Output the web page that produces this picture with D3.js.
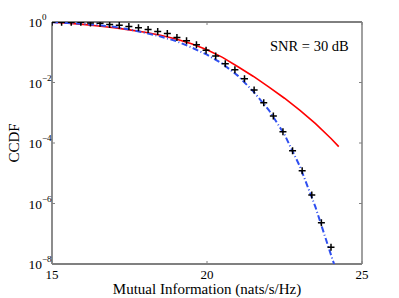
<!DOCTYPE html>
<html><head><meta charset="utf-8">
<script src="https://cdn.jsdelivr.net/npm/d3@7"></script>
<style>
html,body{margin:0;padding:0;background:#fff;}
text{font-family:"Liberation Serif","Times New Roman",serif;fill:#000;}
</style></head>
<body><svg id="c" width="399" height="298"></svg>
<script>
// Markers (simulation) - x in nats/s/Hz, y as log10(CCDF)
const crossX = [15.00,15.31,15.62,15.93,16.24,16.55,16.86,17.17,17.48,17.79,18.10,18.41,18.72,19.03,19.34,19.66,19.97,20.28,20.59,20.90,21.21,21.52,21.83,22.14,22.45,22.76,23.07,23.38,23.69,24.00];
const crossLog = [-0.01,-0.01,-0.01,-0.01,-0.03,-0.04,-0.08,-0.11,-0.15,-0.19,-0.25,-0.31,-0.38,-0.51,-0.62,-0.75,-0.93,-1.12,-1.38,-1.58,-1.88,-2.25,-2.67,-3.11,-3.63,-4.26,-4.92,-5.72,-6.64,-7.45];
// Red solid curve
const redX = [15.0,15.5,16.0,16.5,17.0,17.5,18.0,18.5,19.0,19.5,20.0,20.5,21.0,21.5,22.0,22.5,23.0,23.5,24.0,24.25];
const redLog = [-0.01,-0.04,-0.08,-0.13,-0.19,-0.26,-0.34,-0.44,-0.56,-0.72,-0.92,-1.17,-1.48,-1.80,-2.15,-2.52,-2.92,-3.36,-3.85,-4.12];
// Blue dash-dot curve
const blueX = [15.0,15.5,16.0,16.5,17.0,17.5,18.0,18.5,19.0,19.5,20.0,20.5,21.0,21.5,22.0,22.5,23.0,23.5,24.0,24.1];
const blueLog = [-0.01,-0.03,-0.06,-0.10,-0.16,-0.25,-0.36,-0.48,-0.63,-0.84,-1.08,-1.38,-1.78,-2.30,-2.92,-3.72,-4.78,-6.12,-7.70,-8.0];
const xTicks = [15,20,25];
const yTickExp = [0,-2,-4,-6,-8];

const svg = d3.select("#c");
const L=52,R=362,T=22,B=264;
const x = d3.scaleLinear().domain([15,25]).range([L,R]);
const y = d3.scaleLog().domain([1e-8,1]).range([B,T]);

svg.append("defs").append("clipPath").attr("id","pc")
  .append("rect").attr("x",L).attr("y",T).attr("width",R-L).attr("height",B-T);

// axes box
svg.append("line").attr("x1",L).attr("x2",R).attr("y1",T).attr("y2",T).attr("stroke","#000").attr("stroke-width",1);
svg.append("line").attr("x1",R).attr("x2",R).attr("y1",T).attr("y2",B).attr("stroke","#808080").attr("stroke-width",1.5);
svg.append("line").attr("x1",L).attr("x2",L).attr("y1",T).attr("y2",B).attr("stroke","#808080").attr("stroke-width",1.8);
svg.append("line").attr("x1",L).attr("x2",R).attr("y1",B).attr("y2",B).attr("stroke","#808080").attr("stroke-width",1.8);

// ticks
xTicks.forEach(t=>{
  svg.append("line").attr("x1",x(t)).attr("x2",x(t)).attr("y1",B).attr("y2",B-3).attr("stroke","#808080");
  svg.append("line").attr("x1",x(t)).attr("x2",x(t)).attr("y1",T).attr("y2",T+3).attr("stroke","#808080");
  svg.append("text").attr("x",x(t)).attr("y",B+15).attr("text-anchor","middle").attr("font-size",13).text(t);
});
yTickExp.forEach(e=>{
  const yy=y(Math.pow(10,e));
  svg.append("line").attr("x1",L).attr("x2",L+3).attr("y1",yy).attr("y2",yy).attr("stroke","#808080");
  svg.append("line").attr("x1",R).attr("x2",R-3).attr("y1",yy).attr("y2",yy).attr("stroke","#808080");
  svg.append("text").attr("x",42).attr("y",yy+5).attr("text-anchor","end").attr("font-size",13.5).text("10");
  svg.append("text").attr("x",42).attr("y",yy-2).attr("font-size",9).text(e===0?"0":"\u2212"+(-e));
});

const g = svg.append("g").attr("clip-path","url(#pc)");
const line = d3.line().x(d=>x(d[0])).y(d=>y(Math.pow(10,d[1])));
g.append("path").datum(redX.map((v,i)=>[v,redLog[i]])).attr("d",line)
  .attr("fill","none").attr("stroke","#ff0000").attr("stroke-width",1.6);
g.append("path").datum(blueX.map((v,i)=>[v,blueLog[i]])).attr("d",line)
  .attr("fill","none").attr("stroke","#2f4ff0").attr("stroke-width",2).attr("stroke-dasharray","6,2.5,1,2.5");
const cs=3.5;
crossX.forEach((v,i)=>{
  const cx=x(v), cy=y(Math.pow(10,crossLog[i]));
  g.append("path").attr("d",`M${cx-cs},${cy}H${cx+cs}M${cx},${cy-cs}V${cy+cs}`)
   .attr("stroke","#000").attr("stroke-width",1.5).attr("fill","none");
});

svg.append("text").attr("x",270).attr("y",51).attr("font-size",14.5).text("SNR = 30 dB");
svg.append("text").attr("transform",`translate(19,${(T+B)/2}) rotate(-90)`).attr("text-anchor","middle").attr("font-size",15).text("CCDF");
svg.append("text").attr("x",207).attr("y",294).attr("text-anchor","middle").attr("font-size",15).text("Mutual Information (nats/s/Hz)");
</script></body></html>
